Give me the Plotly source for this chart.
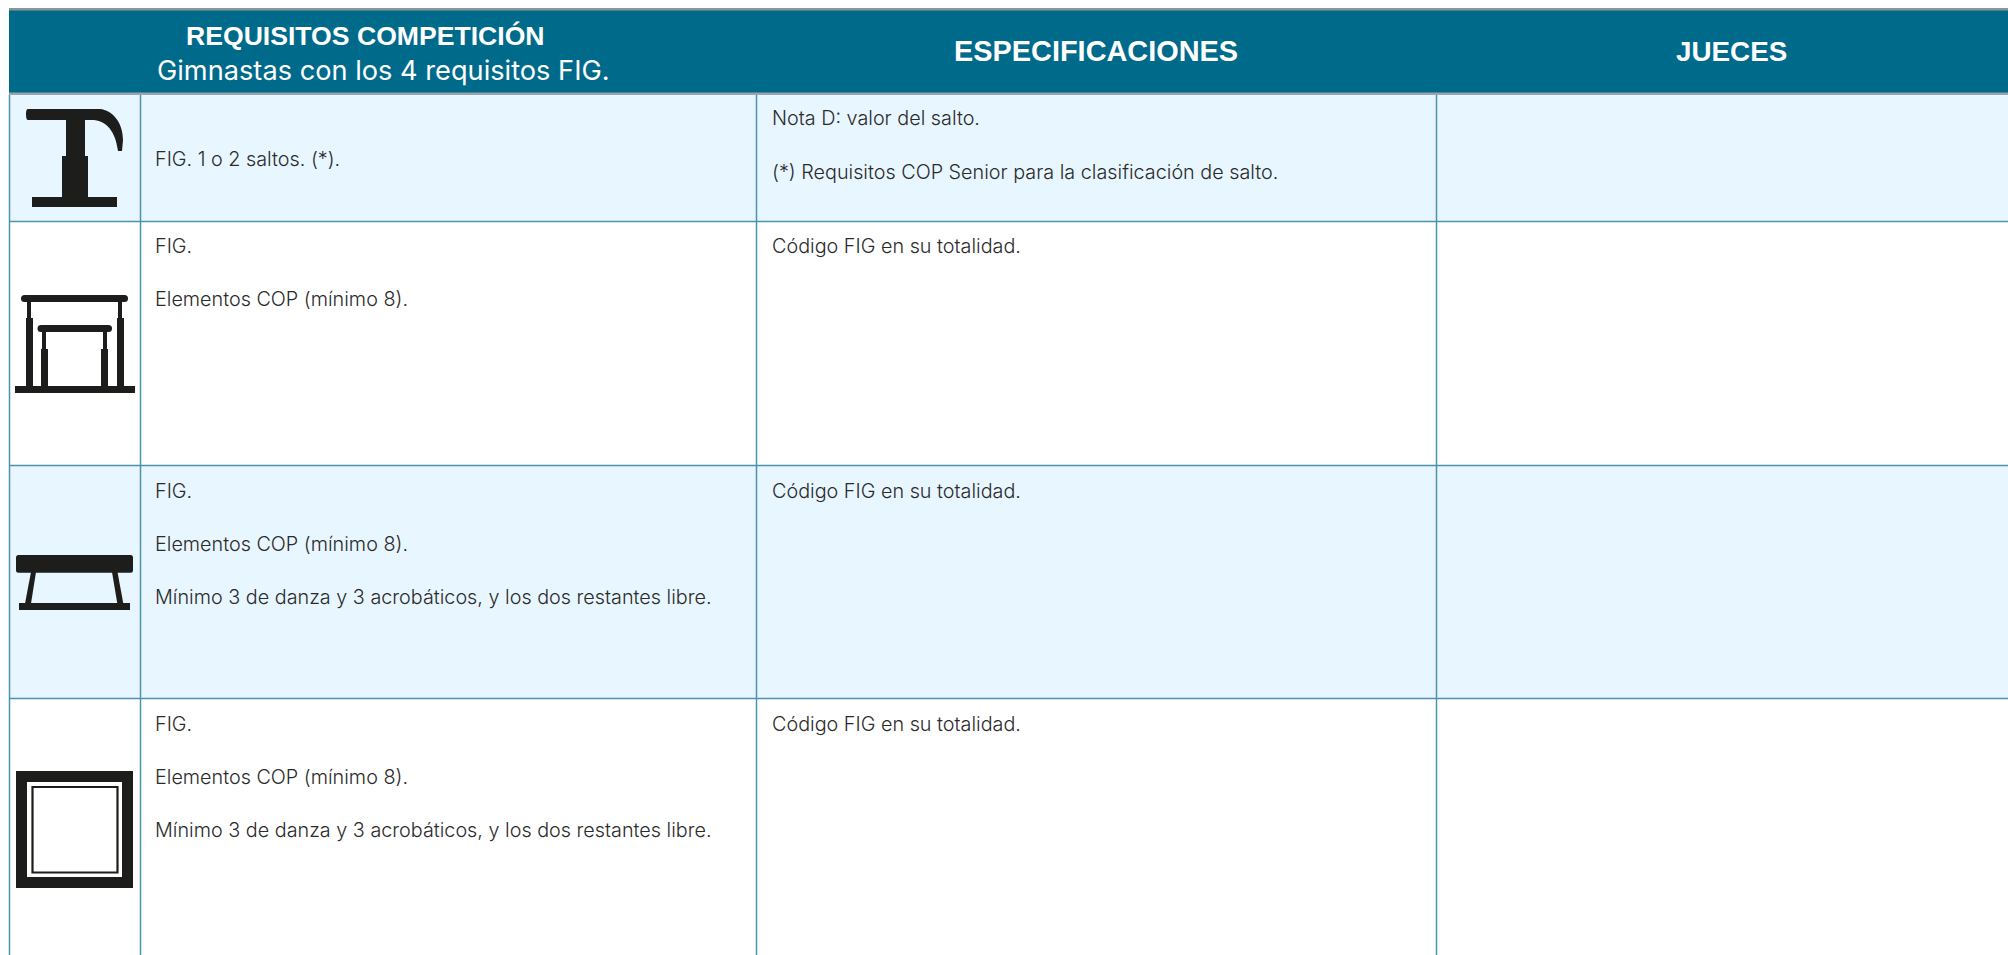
import plotly.graph_objects as go

W, H = 2008, 955
FONT = "Inter"
TITLE_FONT = "Liberation Sans"
HEADER_BG = "#006A8B"
ROW_TINT = "#E8F6FF"
GRID = "#4B93AE"
INK = "#1D1D1B"
TEXT = "#2B2B2B"

header_titles = ["REQUISITOS COMPETICIÓN", "ESPECIFICACIONES", "JUECES"]
header_subtitle = "Gimnastas con los 4 requisitos FIG."
requisitos = [
    ["FIG. 1 o 2 saltos. (*)."],
    ["FIG.", "Elementos COP (mínimo 8)."],
    ["FIG.", "Elementos COP (mínimo 8).", "Mínimo 3 de danza y 3 acrobáticos, y los dos restantes libre."],
    ["FIG.", "Elementos COP (mínimo 8).", "Mínimo 3 de danza y 3 acrobáticos, y los dos restantes libre."],
]
especificaciones = [
    ["Nota D: valor del salto.", "(*) Requisitos COP Senior para la clasificación de salto."],
    ["Código FIG en su totalidad."],
    ["Código FIG en su totalidad."],
    ["Código FIG en su totalidad."],
]

# layout geometry (pixels)
col_edges = [9, 140, 756, 1436, W]
row_edges = [94, 221.5, 465.5, 698.5, H]
req_y = [[159], [246, 299], [490.5, 543.5, 597], [723.5, 777, 830]]
esp_y = [[118, 172], [246], [490.5], [723.5]]

shapes = []

def rect(x0, y0, x1, y1, fill, line=None, lw=0):
    shapes.append(dict(type="rect", x0=x0, y0=y0, x1=x1, y1=y1, fillcolor=fill,
                       line=dict(color=line or fill, width=lw), layer="above"))

def poly(pts, fill=INK):
    d = "M" + " L".join(f"{x},{y}" for x, y in pts) + " Z"
    shapes.append(dict(type="path", path=d, fillcolor=fill, line=dict(width=0), layer="above"))

def rounded(x0, y0, x1, y1, r, fill=INK):
    d = (f"M{x0+r},{y0} L{x1-r},{y0} Q{x1},{y0} {x1},{y0+r} L{x1},{y1-r} Q{x1},{y1} {x1-r},{y1} "
         f"L{x0+r},{y1} Q{x0},{y1} {x0},{y1-r} L{x0},{y0+r} Q{x0},{y0} {x0+r},{y0} Z")
    shapes.append(dict(type="path", path=d, fillcolor=fill, line=dict(width=0), layer="above"))

# backgrounds
rect(9, row_edges[0], W, row_edges[1], ROW_TINT)
rect(9, row_edges[2], W, row_edges[3], ROW_TINT)
rect(9, 9, W, 93.5, HEADER_BG)
rect(9, 8, W, 10.5, "#8A9499")
rect(9, 92.5, W, 95, "#9AA5AA")

# grid
for x in col_edges[:-1]:
    shapes.append(dict(type="line", x0=x + 0.5, x1=x + 0.5, y0=95, y1=H,
                       line=dict(color=GRID, width=1.5), layer="above"))
for y in row_edges[1:-1]:
    shapes.append(dict(type="line", x0=9, x1=W, y0=y, y1=y,
                       line=dict(color=GRID, width=1.5), layer="above"))

# vault
shapes.append(dict(type="path", fillcolor=INK, line=dict(width=0), layer="above",
    path="M28,109 L100,109 C112,110 123,122 123,140 L122,151 L118,151 C116,136 110,122 94,120 L28,120 Q26,120 26,114 Q26,109 28,109 Z"))
rect(66, 118, 85, 157, INK)
rect(62, 156, 88, 198, INK)
rect(32, 197, 117, 207, INK)

# uneven bars
rounded(21, 295, 128, 302, 3.5)
rect(27, 301, 31, 319, INK); rect(26, 318, 33, 387, INK)
rect(118, 301, 122, 319, INK); rect(117, 318, 124, 387, INK)
rounded(37.5, 325, 112, 332, 3.5)
rect(42, 331, 46, 350, INK); rect(41, 349, 48, 387, INK)
rect(103, 331, 107, 350, INK); rect(101, 349, 108, 387, INK)
rect(15, 386, 135, 393, INK)

# beam
rounded(16, 555, 133, 572.7, 2.5)
poly([(31, 572), (36, 572), (31, 603.5), (25, 603.5)])
poly([(112, 572), (117.5, 572), (123.3, 603.5), (117.3, 603.5)])
rect(19, 603, 130, 610, INK)

# floor
rect(16, 771, 133, 888, INK)
rect(27, 782, 122, 877, "#FFFFFF")
shapes.append(dict(type="rect", x0=32.5, y0=787, x1=117.5, y1=872.5, fillcolor="#FFFFFF",
                   line=dict(color=INK, width=2.2), layer="above"))

annotations = []

def label(x, y, text, size=19.8, color=TEXT, anchor="left", weight=300, family=FONT):
    annotations.append(dict(x=x, y=y, xref="x", yref="y", text=text, showarrow=False,
                            xanchor=anchor, yanchor="middle", align=anchor,
                            font=dict(family=family, size=size, color=color, weight=weight)))

label(365.6, 36, header_titles[0], 26.6, "#FFFFFF", "center", 700, TITLE_FONT)
label(383, 70, header_subtitle, 27.2, "#FFFFFF", "center", 400)
label(1096, 51, header_titles[1], 28.9, "#FFFFFF", "center", 700, TITLE_FONT)
label(1731, 51, header_titles[2], 27.8, "#FFFFFF", "center", 700, TITLE_FONT)

for lines, ys in zip(requisitos, req_y):
    for t, y in zip(lines, ys):
        label(153, y, t)
for lines, ys in zip(especificaciones, esp_y):
    for t, y in zip(lines, ys):
        label(769.5, y, t)

fig = go.Figure()
fig.add_trace(go.Scatter(x=[0, W], y=[0, H], mode="markers", marker=dict(opacity=0), hoverinfo="skip", showlegend=False))
fig.update_layout(
    width=W, height=H, margin=dict(l=0, r=0, t=0, b=0, pad=0),
    paper_bgcolor="#FFFFFF", plot_bgcolor="#FFFFFF",
    xaxis=dict(range=[0, W], visible=False, fixedrange=True),
    yaxis=dict(range=[H, 0], visible=False, fixedrange=True),
    shapes=shapes, annotations=annotations,
)
fig.write_html("out.html", config=dict(displayModeBar=False), include_plotlyjs=True,
               post_script="document.body.style.margin='0';document.body.style.overflow='hidden';")
